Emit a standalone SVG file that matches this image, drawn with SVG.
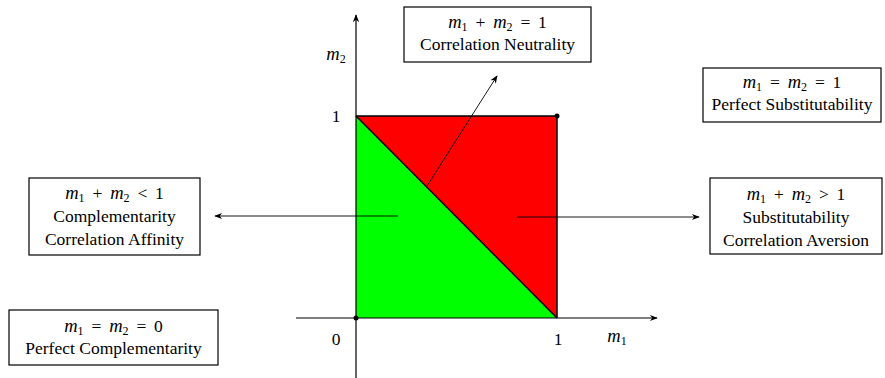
<svg xmlns="http://www.w3.org/2000/svg" width="885" height="378" viewBox="0 0 885 378">
<style>
.box{fill:#fff;stroke:#000;stroke-width:1.2}
.t{font-family:"Liberation Serif","Times New Roman",serif;font-size:17.5px;text-anchor:middle;fill:#000}
.math{word-spacing:3.5px}
.mi{font-style:italic;font-size:18.5px}
.sub{font-size:12px}
.ax{stroke:#000;stroke-width:1.2;fill:none}
.ar{stroke:#000;stroke-width:0.9;fill:none}
</style>
<defs>
<marker id="ah" viewBox="0 0 10 10" refX="9" refY="5" markerWidth="8" markerHeight="8" markerUnits="userSpaceOnUse" orient="auto">
<path d="M0,1 L10,5 L0,9 L3,5 Z" fill="#000"/>
</marker>
</defs>

<g id="region">
<polygon points="356,116 356,318 557,318" fill="#00ff00"/>
<polygon points="356,116 557,116 557,318" fill="#ff0000"/>
<polyline points="356,116 557,116 557,318" fill="none" stroke="#000" stroke-width="1.5"/>
<line x1="356" y1="116" x2="557" y2="318" stroke="#000" stroke-width="1.5"/>
</g>

<g id="connectors">
<line class="ax" x1="296" y1="318" x2="657" y2="318" marker-end="url(#ah)"/>
<line class="ax" x1="356" y1="378" x2="356" y2="15" marker-end="url(#ah)"/>
<line class="ar" x1="427" y1="186" x2="497" y2="76" marker-end="url(#ah)"/>
<line class="ar" x1="398" y1="216" x2="215" y2="216" marker-end="url(#ah)"/>
<line class="ar" x1="517" y1="217" x2="699" y2="217" marker-end="url(#ah)"/>
</g>

<g id="points">
<circle cx="557" cy="116" r="2.5" fill="#000"/>
<circle cx="356" cy="318" r="2.5" fill="#000"/>
</g>

<g id="axis-labels">
<text class="t" x="336" y="122">1</text>
<text class="t" x="336" y="345">0</text>
<text class="t" x="558" y="345">1</text>
<text class="t" x="617" y="342"><tspan class="mi">m</tspan><tspan class="sub" dy="3">1</tspan></text>
<text class="t" x="336" y="60"><tspan class="mi">m</tspan><tspan class="sub" dy="3">2</tspan></text>
</g>

<g id="neutrality">
<rect class="box" x="404" y="7" width="187" height="55"/>
<text class="t math" x="497.5" y="28"><tspan class="mi">m</tspan><tspan class="sub" dy="3">1</tspan><tspan dy="-3"> + </tspan><tspan class="mi">m</tspan><tspan class="sub" dy="3">2</tspan><tspan dy="-3"> = 1</tspan></text>
<text class="t" x="497.5" y="50">Correlation Neutrality</text>
</g>

<g id="perfect-substitutability">
<rect class="box" x="703" y="68" width="178" height="54"/>
<text class="t math" x="792" y="88"><tspan class="mi">m</tspan><tspan class="sub" dy="3">1</tspan><tspan dy="-3"> = </tspan><tspan class="mi">m</tspan><tspan class="sub" dy="3">2</tspan><tspan dy="-3"> = 1</tspan></text>
<text class="t" x="792" y="110">Perfect Substitutability</text>
</g>

<g id="complementarity">
<rect class="box" x="29" y="178" width="171" height="77"/>
<text class="t math" x="114.5" y="199"><tspan class="mi">m</tspan><tspan class="sub" dy="3">1</tspan><tspan dy="-3"> + </tspan><tspan class="mi">m</tspan><tspan class="sub" dy="3">2</tspan><tspan dy="-3"> &lt; 1</tspan></text>
<text class="t" x="114.5" y="222">Complementarity</text>
<text class="t" x="114.5" y="245">Correlation Affinity</text>
</g>

<g id="substitutability">
<rect class="box" x="710" y="178" width="172" height="76"/>
<text class="t math" x="796" y="200"><tspan class="mi">m</tspan><tspan class="sub" dy="3">1</tspan><tspan dy="-3"> + </tspan><tspan class="mi">m</tspan><tspan class="sub" dy="3">2</tspan><tspan dy="-3"> &gt; 1</tspan></text>
<text class="t" x="796" y="223">Substitutability</text>
<text class="t" x="796" y="246">Correlation Aversion</text>
</g>

<g id="perfect-complementarity">
<rect class="box" x="9" y="310" width="209" height="55"/>
<text class="t math" x="113.5" y="332"><tspan class="mi">m</tspan><tspan class="sub" dy="3">1</tspan><tspan dy="-3"> = </tspan><tspan class="mi">m</tspan><tspan class="sub" dy="3">2</tspan><tspan dy="-3"> = 0</tspan></text>
<text class="t" x="113.5" y="354">Perfect Complementarity</text>
</g>
</svg>
